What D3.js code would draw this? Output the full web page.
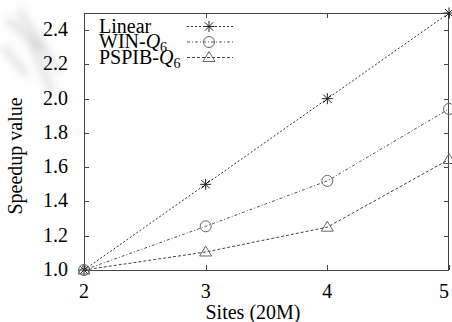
<!DOCTYPE html>
<html>
<head>
<meta charset="utf-8">
<script src="https://cdn.jsdelivr.net/npm/d3@7"></script>
<style>
  body { margin: 0; background: #fff; }
  svg { display: block; }
</style>
</head>
<body>
<svg width="452" height="322"></svg>
<script>
// data
var sites = [2, 3, 4, 5];
var linear = [1.0, 1.5, 2.0, 2.5];
var winQ6 = [1.0, 1.255, 1.52, 1.94];
var pspibQ6 = [1.0, 1.105, 1.25, 1.645];
var yTicks = [1.0, 1.2, 1.4, 1.6, 1.8, 2.0, 2.2, 2.4];
var seriesNames = ["Linear", "WIN-", "PSPIB-"];

var svg = d3.select("svg");
var pLeft = 84, pRight = 449, pTop = 13, pBottom = 270;
var serif = "'Liberation Serif', 'DejaVu Serif', serif";
var fs = "20px";

var x = d3.scaleLinear().domain([2, 5]).range([pLeft, pRight]);
var y = d3.scaleLinear().domain([1, 2.5]).range([pBottom, pTop]);

// faint blurry smudge in the top left corner
var defs = svg.append("defs");
defs.append("filter").attr("id", "blur")
  .attr("x", "-50%").attr("y", "-50%").attr("width", "200%").attr("height", "200%")
  .append("feGaussianBlur").attr("stdDeviation", 4);
var smudge = svg.append("g").attr("filter", "url(#blur)").attr("opacity", 0.4);
[[8, 20, 40, 48], [20, 12, 58, 70], [30, 40, 52, 92], [4, 48, 26, 74]].forEach(function(s){
  smudge.append("line")
    .attr("x1", s[0]).attr("y1", s[1]).attr("x2", s[2]).attr("y2", s[3])
    .style("stroke", "#999").style("stroke-width", 5).style("stroke-linecap", "round");
});

var axisColor = "#444";
var tick = 5;

// frame
svg.append("rect")
  .attr("x", pLeft + 0.5).attr("y", pTop + 0.5)
  .attr("width", pRight - pLeft - 1).attr("height", pBottom - pTop)
  .style("fill", "none").style("stroke", axisColor).style("stroke-width", 1);

// y ticks, both sides
yTicks.forEach(function(v){
  var yy = Math.round(y(v)) + 0.5;
  svg.append("line").attr("x1", pLeft).attr("x2", pLeft + tick).attr("y1", yy).attr("y2", yy)
    .style("stroke", axisColor);
  svg.append("line").attr("x1", pRight - tick).attr("x2", pRight).attr("y1", yy).attr("y2", yy)
    .style("stroke", axisColor);
  svg.append("text")
    .attr("x", 68).attr("y", y(v) + 6)
    .attr("text-anchor", "end")
    .style("font-family", serif)
    .style("font-size", fs)
    .text(d3.format(".1f")(v));
});

// x ticks, top and bottom
sites.forEach(function(v){
  var xx = Math.round(x(v)) + 0.5;
  svg.append("line").attr("x1", xx).attr("x2", xx).attr("y1", pBottom).attr("y2", pBottom - tick)
    .style("stroke", axisColor);
  svg.append("line").attr("x1", xx).attr("x2", xx).attr("y1", pTop).attr("y2", pTop + tick)
    .style("stroke", axisColor);
  svg.append("text")
    .attr("x", Math.min(x(v), 444)).attr("y", 298)
    .attr("text-anchor", "middle")
    .style("font-family", serif)
    .style("font-size", fs)
    .text(v);
});

// axis titles
svg.append("text")
  .attr("x", 253).attr("y", 319)
  .attr("text-anchor", "middle")
  .style("font-family", serif)
  .style("font-size", fs)
  .text("Sites (20M)");
svg.append("text")
  .attr("transform", "translate(22,156) rotate(-90)")
  .attr("text-anchor", "middle")
  .style("font-family", serif)
  .style("font-size", fs)
  .text("Speedup value");

var lineGen = d3.line().x(function(d){ return x(d[0]); }).y(function(d){ return y(d[1]); });
var dashes = ["2,2", "3,2,1,2", "3,2"];
var colors = ["#333", "#555", "#444"];
var markColors = ["#222", "#666", "#666"];

function marker(g, type, cx, cy, c){
  if(type == 0){
    var r = 5.5;
    [[0, -r, 0, r], [-r, 0, r, 0], [-r*0.75, -r*0.75, r*0.75, r*0.75], [-r*0.75, r*0.75, r*0.75, -r*0.75]]
      .forEach(function(s){
        g.append("line")
          .attr("x1", cx + s[0]).attr("y1", cy + s[1]).attr("x2", cx + s[2]).attr("y2", cy + s[3])
          .style("stroke", c).style("stroke-width", 1);
      });
  } else if(type == 1){
    g.append("circle").attr("cx", cx).attr("cy", cy).attr("r", 5.5)
      .style("fill", "none").style("stroke", c).style("stroke-width", 1);
  } else {
    g.append("path")
      .attr("d", "M" + cx + "," + (cy - 6) + "L" + (cx + 6) + "," + (cy + 4) + "L" + (cx - 6) + "," + (cy + 4) + "Z")
      .style("fill", "none").style("stroke", c).style("stroke-width", 1);
  }
}

var allSeries = [linear, winQ6, pspibQ6];
allSeries.forEach(function(vals, i){
  var pts = sites.map(function(s, j){ return [s, vals[j]]; });
  var g = svg.append("g");
  g.append("path")
    .datum(pts)
    .attr("d", lineGen)
    .style("fill", "none")
    .style("stroke", colors[i])
    .style("stroke-width", 1)
    .style("stroke-dasharray", dashes[i]);
  pts.forEach(function(p){
    marker(g, i, x(p[0]), y(p[1]), markColors[i]);
  });
});

// legend
var legY = [26.5, 42, 57.5];
seriesNames.forEach(function(name, i){
  var t = svg.append("text")
    .attr("x", 99).attr("y", legY[i] + 6)
    .style("font-family", serif)
    .style("font-size", fs);
  t.append("tspan").text(name);
  if(i > 0){
    t.append("tspan").style("font-style", "italic").text("Q");
    t.append("tspan").attr("dy", 4).style("font-size", "14px").text("6");
  }
  svg.append("line")
    .attr("x1", 187).attr("x2", 233).attr("y1", legY[i]).attr("y2", legY[i])
    .style("stroke", colors[i]).style("stroke-width", 1)
    .style("stroke-dasharray", dashes[i]);
  marker(svg, i, 209, legY[i], markColors[i]);
});
</script>
</body>
</html>
